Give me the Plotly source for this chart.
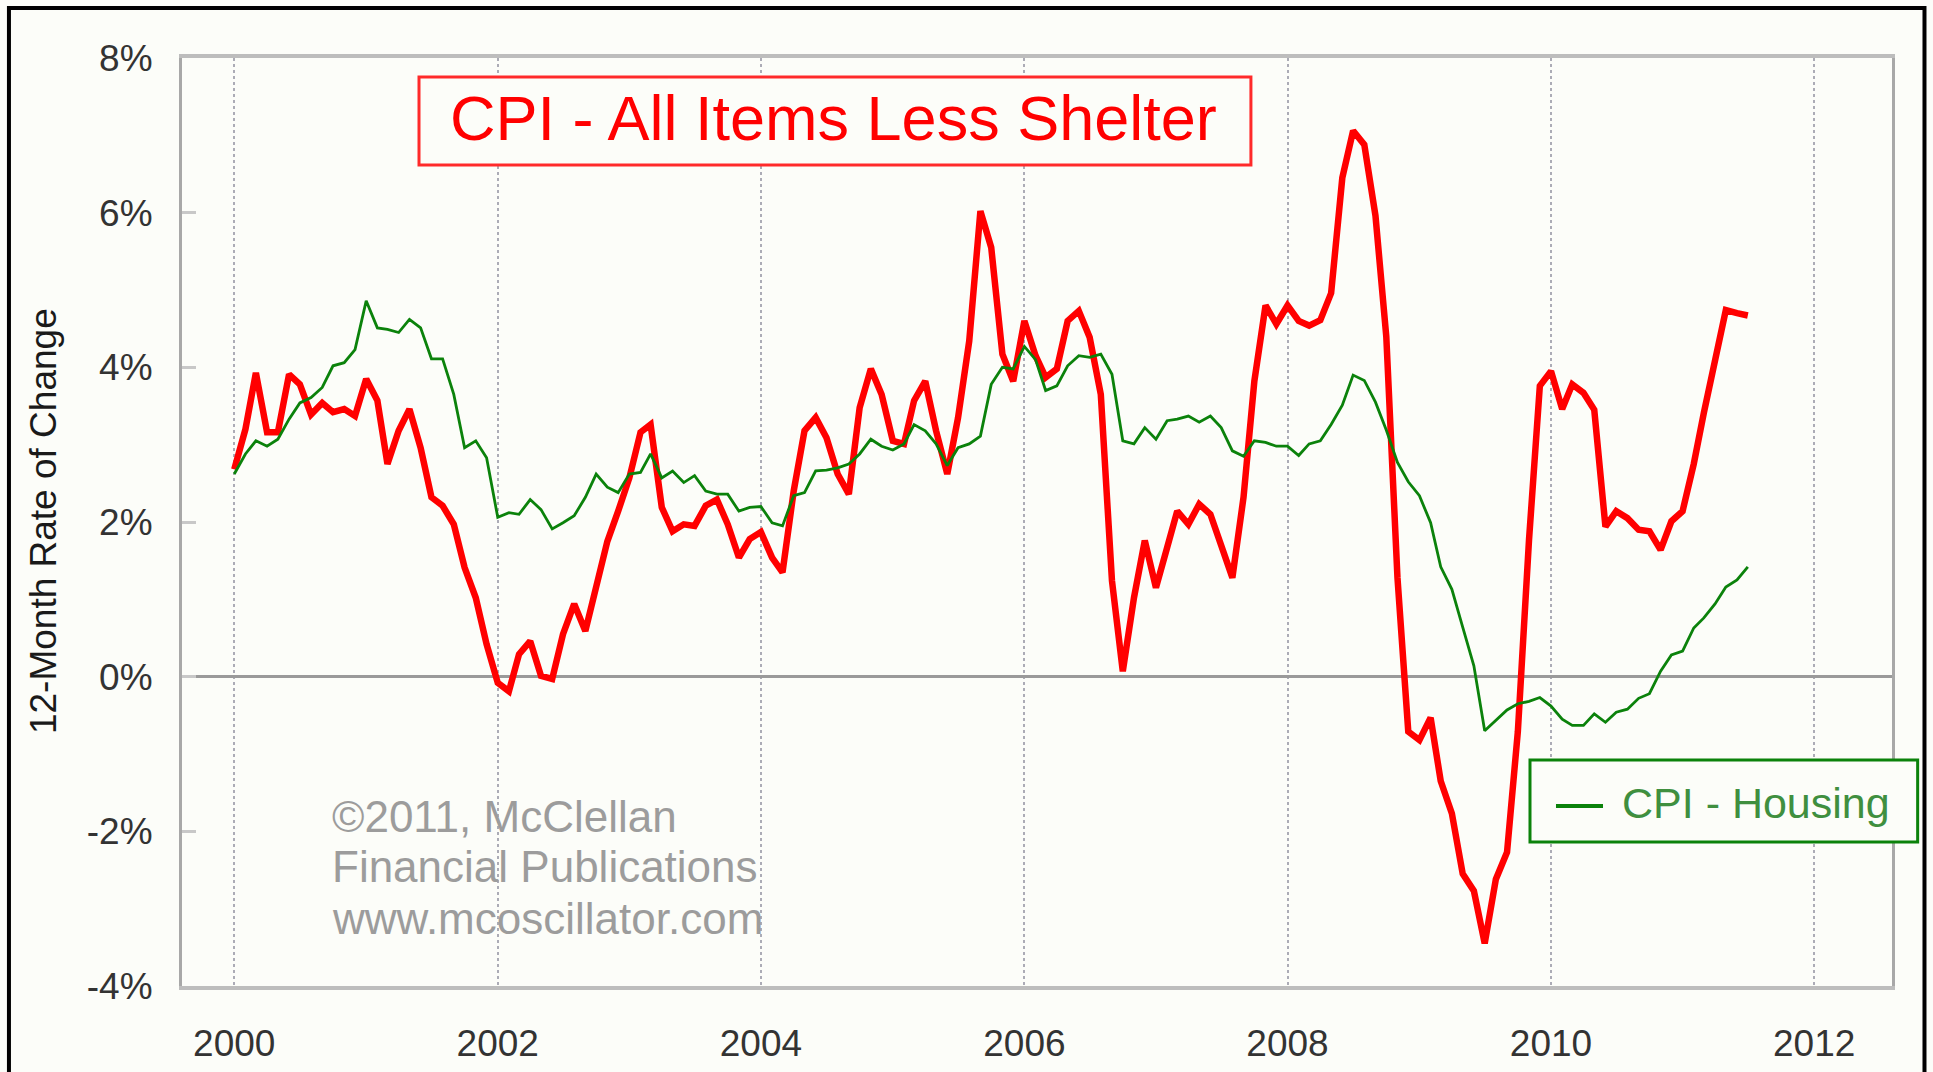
import pandas as pd
import plotly.graph_objects as go

# ---------------- data (12-month rate of change, %, monthly from Jan 2000) ----------------
start_month = "2000-01-01"

cpi_less_shelter = [
    2.68, 3.20, 3.93, 3.16, 3.16, 3.91, 3.78, 3.39, 3.54, 3.42, 3.46, 3.37,   # 2000
    3.85, 3.57, 2.75, 3.18, 3.46, 2.96, 2.32, 2.21, 1.97, 1.41, 1.02, 0.42,   # 2001
    -0.08, -0.19, 0.29, 0.46, 0.01, -0.03, 0.55, 0.94, 0.59, 1.15, 1.75, 2.14,  # 2002
    2.57, 3.16, 3.26, 2.19, 1.88, 1.97, 1.95, 2.21, 2.29, 1.97, 1.54, 1.78,   # 2003
    1.87, 1.54, 1.35, 2.40, 3.18, 3.35, 3.09, 2.62, 2.36, 3.48, 3.98, 3.65,   # 2004
    3.05, 3.01, 3.57, 3.82, 3.18, 2.62, 3.35, 4.34, 6.02, 5.55, 4.17, 3.82,   # 2005
    4.60, 4.15, 3.87, 3.98, 4.60, 4.73, 4.39, 3.65, 1.24, 0.07, 1.02, 1.76,   # 2006
    1.15, 1.67, 2.14, 1.97, 2.23, 2.10, 1.67, 1.28, 2.32, 3.82, 4.80, 4.56,   # 2007
    4.80, 4.60, 4.54, 4.61, 4.96, 6.45, 7.06, 6.88, 5.96, 4.40, 1.28, -0.71,  # 2008
    -0.82, -0.53, -1.35, -1.77, -2.55, -2.77, -3.45, -2.62, -2.27, -0.71, 1.77, 3.76,  # 2009
    3.95, 3.46, 3.78, 3.67, 3.45, 1.94, 2.14, 2.05, 1.90, 1.88, 1.64, 2.01,   # 2010
    2.14, 2.75, 3.41, 4.11, 4.74, 4.70, 4.67,                                 # 2011
]

cpi_housing = [
    2.62, 2.88, 3.05, 2.98, 3.07, 3.33, 3.54, 3.61, 3.74, 4.02, 4.06, 4.23,   # 2000
    4.86, 4.51, 4.49, 4.45, 4.62, 4.51, 4.11, 4.11, 3.65, 2.96, 3.05, 2.83,   # 2001
    2.06, 2.12, 2.10, 2.29, 2.16, 1.91, 1.99, 2.08, 2.32, 2.62, 2.45, 2.38,   # 2002
    2.62, 2.64, 2.88, 2.57, 2.66, 2.51, 2.60, 2.40, 2.36, 2.36, 2.14, 2.19,   # 2003
    2.20, 1.99, 1.95, 2.34, 2.38, 2.66, 2.67, 2.70, 2.75, 2.88, 3.07, 2.98,   # 2004
    2.93, 3.01, 3.26, 3.18, 3.01, 2.73, 2.96, 3.01, 3.11, 3.78, 4.00, 3.98,   # 2005
    4.27, 4.10, 3.70, 3.76, 4.02, 4.15, 4.13, 4.17, 3.91, 3.05, 3.01, 3.22,   # 2006
    3.07, 3.31, 3.33, 3.37, 3.29, 3.37, 3.22, 2.92, 2.85, 3.05, 3.03, 2.98,   # 2007
    2.98, 2.86, 3.01, 3.05, 3.26, 3.51, 3.90, 3.83, 3.55, 3.19, 2.77, 2.52,   # 2008
    2.34, 1.99, 1.42, 1.13, 0.64, 0.14, -0.70, -0.57, -0.43, -0.35, -0.32, -0.27,  # 2009
    -0.38, -0.55, -0.63, -0.63, -0.48, -0.59, -0.46, -0.42, -0.28, -0.22, 0.07, 0.28,  # 2010
    0.33, 0.63, 0.76, 0.94, 1.16, 1.25, 1.42,                                 # 2011
]

x_tick_years = [2000, 2002, 2004, 2006, 2008, 2010, 2012]
x_tick_labels = ["2000", "2002", "2004", "2006", "2008", "2010", "2012"]
y_tick_values = [-4, -2, 0, 2, 4, 6, 8]
y_tick_labels = ["-4%", "-2%", "0%", "2%", "4%", "6%", "8%"]

title_text = "CPI - All Items Less Shelter"
legend_text = "CPI - Housing"
y_axis_title = "12-Month Rate of Change"
credit_lines = ["\u00a92011, McClellan", "Financial Publications", "www.mcoscillator.com"]

# ---------------- figure ----------------
months = pd.date_range(start_month, periods=len(cpi_less_shelter), freq="MS")

BG = "#fcfdf9"
RED = "#ff0000"
GREEN = "#0b820b"
FONT = "Liberation Sans, Arial, sans-serif"

fig = go.Figure()
fig.add_trace(go.Scatter(
    x=months, y=cpi_less_shelter, mode="lines", name=title_text,
    line=dict(color=RED, width=6.5), showlegend=False, hoverinfo="skip"))
fig.add_trace(go.Scatter(
    x=months, y=cpi_housing, mode="lines", name=legend_text,
    line=dict(color=GREEN, width=2.8), showlegend=False, hoverinfo="skip"))

fig.update_layout(
    width=1933, height=1072,
    margin=dict(l=182, r=41, t=58, b=86, pad=0),
    paper_bgcolor=BG, plot_bgcolor=BG,
    font=dict(family=FONT, color="#333333"),
    showlegend=False,
)

fig.update_xaxes(
    type="date", automargin=False,
    range=["1999-08-09", "2012-08-04"],
    tickvals=[f"{y}-01-01" for y in x_tick_years],
    ticktext=x_tick_labels,
    tickfont=dict(size=37, color="#333333", family=FONT),
    ticks="", ticklabelstandoff=22,
    showgrid=True, gridcolor="#acacb6", gridwidth=2, griddash="dot",
    showline=True, linecolor="#bdbdbd", linewidth=4, mirror=True,
    zeroline=False,
)
fig.update_yaxes(
    automargin=False,
    range=[-4, 8],
    tickvals=y_tick_values, ticktext=y_tick_labels,
    tickfont=dict(size=37, color="#333333", family=FONT),
    ticks="inside", ticklen=14, tickwidth=3, tickcolor="#c8c8c8",
    ticklabelstandoff=19,
    showgrid=False,
    zeroline=True, zerolinecolor="#9a9a9a", zerolinewidth=3,
    showline=True, linecolor="#a8a8a8", linewidth=3, mirror=True,
)

shapes = [
    # outer black frame
    dict(type="rect", xref="paper", yref="paper", x0=-0.1012, x1=1.019, y0=-0.10, y1=1.054,
         line=dict(color="#000000", width=4), fillcolor="rgba(0,0,0,0)", layer="above"),
    # title box
    dict(type="rect", xref="paper", yref="paper", x0=0.1386, x1=0.6251, y0=0.8847, y1=0.9795,
         line=dict(color="#ff2a2a", width=3), fillcolor=BG, layer="above"),
    # legend box
    dict(type="rect", xref="paper", yref="paper", x0=0.7883, x1=1.0150, y0=0.1552, y1=0.2435,
         line=dict(color=GREEN, width=3), fillcolor=BG, layer="above"),
    # legend line sample
    dict(type="line", xref="paper", yref="paper", x0=0.8035, x1=0.8310, y0=0.194, y1=0.194,
         line=dict(color=GREEN, width=4), layer="above"),
]

annotations = [
    dict(text=title_text, xref="paper", yref="paper", x=0.381, y=0.9355,
         xanchor="center", yanchor="middle", showarrow=False,
         font=dict(size=63, color=RED, family=FONT)),
    dict(text=legend_text, xref="paper", yref="paper", x=0.841, y=0.1972,
         xanchor="left", yanchor="middle", showarrow=False,
         font=dict(size=43, color="#3f8f3f", family=FONT)),
    dict(text=y_axis_title, xref="paper", yref="paper", x=-0.0813, y=0.501,
         xanchor="center", yanchor="middle", textangle=-90, showarrow=False,
         font=dict(size=37, color="#1a1a1a", family=FONT)),
]
credit_y_px = [816, 867, 918]
for line_text, ypx in zip(credit_lines, credit_y_px):
    annotations.append(dict(
        text=line_text, xref="paper", yref="paper",
        x=(330 - 182) / 1710, y=(986 - ypx) / 928,
        xanchor="left", yanchor="middle", showarrow=False,
        font=dict(size=44, color="#9c9c9c", family=FONT)))

fig.update_layout(shapes=shapes, annotations=annotations)

fig.write_html("out.html", config={"displayModeBar": False},
               post_script="document.body.style.margin='0';")
